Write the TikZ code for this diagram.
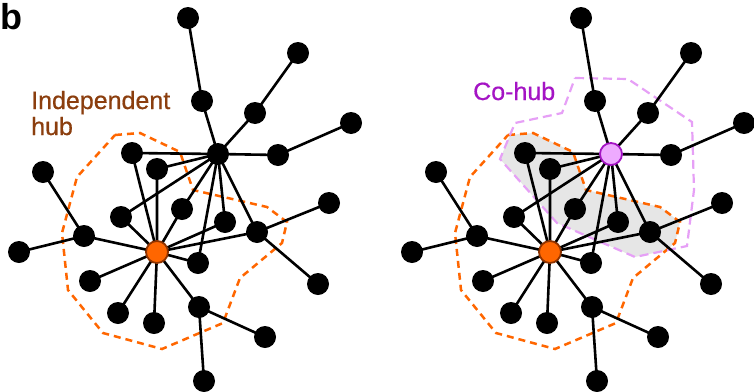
\documentclass[tikz,border=0pt]{standalone}
\usepackage{fontspec}
\setmainfont{Liberation Sans}
\newfontfamily\lblfont[FakeBold=0.6]{Liberation Sans}
\usetikzlibrary{backgrounds}
\pgfdeclarelayer{polys}
\pgfsetlayers{polys,background,main}
\definecolor{hubor}{HTML}{FF6600}
\definecolor{hubordk}{HTML}{8F3300}
\definecolor{pinkf}{HTML}{EEAAFF}
\definecolor{pinkd}{HTML}{A414C4}
\definecolor{pinkline}{HTML}{E6A0F6}
\definecolor{brownt}{HTML}{8B3E0E}
\definecolor{grayfill}{HTML}{E6E6E6}
\tikzset{
  x=1pt, y=-1pt,
  dot/.style={circle, fill=black, minimum size=22pt, inner sep=0pt},
  ohub/.style={circle, fill=hubor, draw=hubordk, line width=1.8pt, minimum size=22pt, inner sep=0pt},
  phub/.style={circle, fill=pinkf, draw=pinkd, line width=1.8pt, minimum size=22pt, inner sep=0pt},
  edge/.style={line width=2.6pt, black},
  odash/.style={draw=hubor, line width=2.5pt, dash pattern=on 7pt off 5pt},
  pdash/.style={draw=pinkline, line width=2.2pt, dash pattern=on 9pt off 5pt},
  lbl/.style={inner sep=0pt, anchor=base west}
}
\newcommand\netpanel[3]{%
\begin{scope}[xshift=#2]
\node[dot] (#1t1) at (188,18) {};
\node[dot] (#1t2) at (202,101) {};
\node[dot] (#1u1) at (298,53) {};
\node[dot] (#1u2) at (255,113) {};
\node[dot] (#1v1) at (351,123) {};
\node[dot] (#1v2) at (278,155) {};
\node[#3] (#1H) at (218,154) {};
\node[dot] (#1a) at (132,153) {};
\node[dot] (#1b) at (157,169) {};
\node[dot] (#1c) at (43,172) {};
\node[dot] (#1d) at (329,203) {};
\node[dot] (#1e) at (121,217) {};
\node[dot] (#1f) at (182,209) {};
\node[dot] (#1g) at (225,222) {};
\node[dot] (#1h) at (84,236) {};
\node[dot] (#1i) at (257,232) {};
\node[ohub] (#1O) at (157,252) {};
\node[dot] (#1j) at (19,252) {};
\node[dot] (#1k) at (198,263) {};
\node[dot] (#1l) at (90,281) {};
\node[dot] (#1m) at (318,284) {};
\node[dot] (#1n) at (118,313) {};
\node[dot] (#1o) at (154,323) {};
\node[dot] (#1p) at (199,307) {};
\node[dot] (#1q) at (265,337) {};
\node[dot] (#1r) at (204,381) {};
\begin{pgfonlayer}{background}
\draw[edge] (#1t1.center) -- (#1t2.center) -- (#1H.center);
\draw[edge] (#1u1.center) -- (#1u2.center) -- (#1H.center);
\draw[edge] (#1v1.center) -- (#1v2.center) -- (#1H.center);
\foreach \n in {a,b,e,f,g,k,i}{
  \draw[edge] (#1H.center) -- (#1\n.center) -- (#1O.center);
}
\draw[edge] (#1d.center) -- (#1i.center) -- (#1m.center);
\draw[edge] (#1c.center) -- (#1h.center) -- (#1j.center);
\draw[edge] (#1h.center) -- (#1O.center);
\foreach \n in {l,n,o,p}{
  \draw[edge] (#1O.center) -- (#1\n.center);
}
\draw[edge] (#1q.center) -- (#1p.center) -- (#1r.center);
\end{pgfonlayer}
\end{scope}}
\newcommand\orangepoly{(115,135) -- (140,133) -- (180,152) -- (193,190) -- (267,207) -- (287,222) -- (282,243) -- (240,278) -- (223,323) -- (162,349) -- (103,333) -- (68,290) -- (62,233) -- (77,177) -- cycle}
\newcommand\pinkpoly{(182,78) -- (235,79) -- (299,122) -- (301,190) -- (294,246) -- (242,257) -- (164,223) -- (107,159) -- (122,123) -- (169,113) -- cycle}
\begin{document}
\begin{tikzpicture}
\useasboundingbox (0,0) rectangle (754,391);
% labels
\node[lbl, font=\bfseries\fontsize{36}{36}\selectfont] (panel) at (0.5,29) {b};
\node[lbl, text=brownt, font=\lblfont\fontsize{25}{26}\selectfont] (indep) at (31,109) {Independent};
\node[lbl, text=brownt, font=\lblfont\fontsize{25}{26}\selectfont] (hubw) at (31,135) {hub};
\node[lbl, text=pinkd, font=\lblfont\fontsize{25}{26}\selectfont] (cohub) at (473,100) {Co-hub};
% polygons
\begin{pgfonlayer}{polys}
\draw[odash] \orangepoly;
\begin{scope}[xshift=393pt]
\begin{scope}
\clip \orangepoly;
\fill[grayfill] \pinkpoly;
\end{scope}
\draw[odash] \orangepoly;
\draw[pdash] \pinkpoly;
\end{scope}
\end{pgfonlayer}
\netpanel{L}{0pt}{dot}
\netpanel{R}{393pt}{phub}
\end{tikzpicture}
\end{document}
